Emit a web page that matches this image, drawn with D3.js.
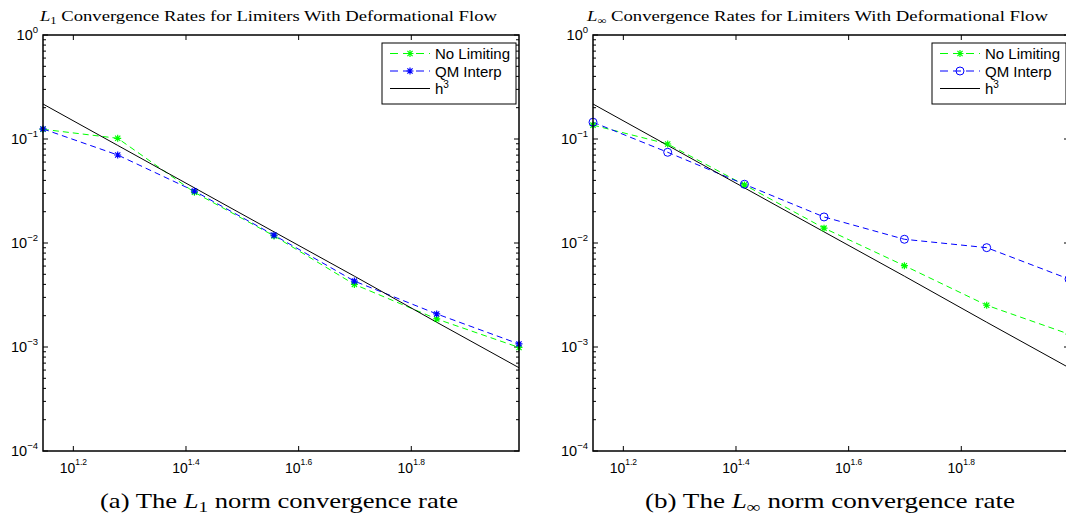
<!DOCTYPE html>
<html>
<head>
<meta charset="utf-8">
<script src="https://cdn.jsdelivr.net/npm/d3@7/dist/d3.min.js"></script>
<style>
body { margin: 0; background: #fff; }
svg { display: block; background: #fff; }
</style>
</head>
<body>
<svg width="1066" height="521"></svg>
<script>
// grid sizes on the x axis
var gridN = [14, 19, 26, 36, 50, 70, 98];

// L1 errors
var l1NoLimiting = [0.124, 0.1016, 0.0307, 0.0117, 0.0040, 0.00186, 0.00099];
var l1QMInterp = [0.125, 0.0702, 0.0316, 0.0119, 0.0043, 0.00208, 0.00107];

// L-infinity errors
var linfNoLimiting = [0.136, 0.0895, 0.0362, 0.0139, 0.00605, 0.00252, 0.00133];
var linfQMInterp = [0.145, 0.0745, 0.0367, 0.0178, 0.01086, 0.00902, 0.0045];

// h^3 reference line (same in both plots)
var h3Line = [0.217, 0.0868, 0.0339, 0.0128, 0.0048, 0.00173, 0.000632];

// ticks
var yMajor = [1e-4, 1e-3, 1e-2, 1e-1, 1];
var yMajorExp = ["\u22124", "\u22123", "\u22122", "\u22121", "0"];
var xMajorExp = ["1.2", "1.4", "1.6", "1.8"];

var legendNames = ["No Limiting", "QM Interp", "h"];

window.onload = main;

function main() {
    var svg = d3.select("svg");

    drawPanel(svg, {
        id: "a", left: 43, right: 519, top: 35, bottom: 451,
        titleX: 40, titleLen: 457, titleSub: "1",
        capX: 279, capLen: 358, capLabel: "(a)", capSub: "1",
        green: l1NoLimiting, blue: l1QMInterp, blueMarker: "star"
    });

    drawPanel(svg, {
        id: "b", left: 593, right: 1069, top: 35, bottom: 451,
        titleX: 587, titleLen: 461, titleSub: "\u221E",
        capX: 830, capLen: 370, capLabel: "(b)", capSub: "\u221E",
        green: linfNoLimiting, blue: linfQMInterp, blueMarker: "circle"
    });
}

function drawPanel(svg, p) {
    var x = d3.scaleLog().domain([gridN[0], gridN[gridN.length - 1]]).range([p.left, p.right]);
    var y = d3.scaleLog().domain([1e-4, 1]).range([p.bottom, p.top]);

    var g = svg.append("g");

    g.append("clipPath").attr("id", "clip" + p.id)
        .append("rect")
        .attr("x", p.left).attr("y", p.top)
        .attr("width", p.right - p.left).attr("height", p.bottom - p.top);

    // y minor ticks
    var yMinor = [];
    for (var d = -4; d < 0; d++) {
        for (var k = 2; k < 10; k++) yMinor.push(k * Math.pow(10, d));
    }

    var ticks = g.append("g").attr("stroke", "#000").attr("stroke-width", 1);
    yMinor.forEach(function (v) {
        ticks.append("line").attr("x1", p.left).attr("x2", p.left + 3).attr("y1", y(v)).attr("y2", y(v));
        ticks.append("line").attr("x1", p.right).attr("x2", p.right - 3).attr("y1", y(v)).attr("y2", y(v));
    });
    yMajor.forEach(function (v) {
        ticks.append("line").attr("x1", p.left).attr("x2", p.left + 5).attr("y1", y(v)).attr("y2", y(v));
        ticks.append("line").attr("x1", p.right).attr("x2", p.right - 5).attr("y1", y(v)).attr("y2", y(v));
    });
    xMajorExp.forEach(function (e) {
        var xv = x(Math.pow(10, +e));
        ticks.append("line").attr("x1", xv).attr("x2", xv).attr("y1", p.bottom).attr("y2", p.bottom - 5);
        ticks.append("line").attr("x1", xv).attr("x2", xv).attr("y1", p.top).attr("y2", p.top + 5);
    });

    // y tick labels
    yMajor.forEach(function (v, i) {
        var t = g.append("text")
            .attr("x", p.left - 5).attr("y", y(v) + 5)
            .attr("text-anchor", "end")
            .style("font-family", "'Liberation Sans', Arial, sans-serif")
            .style("font-size", "14.5px");
        t.append("tspan").text("10");
        t.append("tspan").attr("dy", -7).style("font-size", "9.5px").text(yMajorExp[i]);
    });

    // x tick labels
    xMajorExp.forEach(function (e) {
        var t = g.append("text")
            .attr("x", x(Math.pow(10, +e))).attr("y", p.bottom + 22)
            .attr("text-anchor", "middle")
            .style("font-family", "'Liberation Sans', Arial, sans-serif")
            .style("font-size", "14px");
        t.append("tspan").text("10");
        t.append("tspan").attr("dy", -8).style("font-size", "8.5px").text(e);
    });

    // data lines
    var line = d3.line()
        .x(function (d) { return x(d[0]); })
        .y(function (d) { return y(d[1]); });

    var plot = g.append("g").attr("clip-path", "url(#clip" + p.id + ")");

    var series = [
        { vals: p.green, color: "#00ff00", dash: "6,4", marker: "star" },
        { vals: p.blue, color: "#0000ff", dash: "6,4", marker: p.blueMarker },
        { vals: h3Line, color: "#000", dash: null, marker: null }
    ];

    series.forEach(function (s) {
        var pts = gridN.map(function (n, i) { return [n, s.vals[i]]; });
        plot.append("path")
            .attr("d", line(pts))
            .attr("fill", "none")
            .attr("stroke", s.color)
            .attr("stroke-width", 1)
            .attr("stroke-dasharray", s.dash);
        if (s.marker) {
            pts.forEach(function (pt) {
                drawMarker(g, s.marker, x(pt[0]), y(pt[1]), s.color);
            });
        }
    });

    // axes box
    g.append("rect")
        .attr("x", p.left).attr("y", p.top)
        .attr("width", p.right - p.left).attr("height", p.bottom - p.top)
        .attr("fill", "none").attr("stroke", "#000").attr("stroke-width", 1.5);

    // legend
    var lw = 134, lh = 61;
    var lx = p.right - 3 - lw, ly = p.top + 8;
    var leg = g.append("g");
    leg.append("rect")
        .attr("x", lx).attr("y", ly).attr("width", lw).attr("height", lh)
        .attr("fill", "#fff").attr("stroke", "#000").attr("stroke-width", 1);
    series.forEach(function (s, i) {
        var ry = ly + 10.5 + i * 17.5;
        leg.append("line")
            .attr("x1", lx + 8).attr("x2", lx + 48).attr("y1", ry).attr("y2", ry)
            .attr("stroke", s.color).attr("stroke-width", 1)
            .attr("stroke-dasharray", s.dash ? "8,5" : null);
        if (s.marker) drawMarker(leg, s.marker, lx + 28, ry, s.color);
        var t = leg.append("text")
            .attr("x", lx + 53).attr("y", ry + 5.5)
            .style("font-family", "'Liberation Sans', Arial, sans-serif")
            .style("font-size", "15px")
            .text(legendNames[i]);
        if (i == 2) t.append("tspan").attr("dy", -6).style("font-size", "10px").text("3");
    });

    // title
    var title = g.append("text")
        .attr("x", p.titleX).attr("y", 21)
        .attr("textLength", p.titleLen)
        .attr("lengthAdjust", "spacingAndGlyphs")
        .style("font-family", "'Liberation Serif', 'Times New Roman', serif")
        .style("font-size", "15px");
    title.append("tspan").style("font-style", "italic").text("L");
    title.append("tspan").attr("dy", 3).style("font-size", "10px").text(p.titleSub);
    title.append("tspan").attr("dy", -3).text(" Convergence Rates for Limiters With Deformational Flow");

    // caption
    var cap = g.append("text")
        .attr("x", p.capX).attr("y", 508)
        .attr("text-anchor", "middle")
        .attr("textLength", p.capLen)
        .attr("lengthAdjust", "spacingAndGlyphs")
        .style("font-family", "'Liberation Serif', 'Times New Roman', serif")
        .style("font-size", "21px");
    cap.append("tspan").text(p.capLabel + " The ");
    cap.append("tspan").style("font-style", "italic").text("L");
    cap.append("tspan").attr("dy", 4).style("font-size", "15px").text(p.capSub);
    cap.append("tspan").attr("dy", -4).text(" norm convergence rate");
}

function drawMarker(g, type, cx, cy, color) {
    if (type == "star") {
        g.append("path")
            .attr("d", "M-3.5,0H3.5M0,-3.5V3.5M-2.6,-2.6L2.6,2.6M-2.6,2.6L2.6,-2.6")
            .attr("transform", "translate(" + cx + "," + cy + ")")
            .attr("stroke", color).attr("stroke-width", 1.2).attr("fill", "none");
    } else {
        g.append("circle")
            .attr("cx", cx).attr("cy", cy).attr("r", 4)
            .attr("stroke", color).attr("stroke-width", 1).attr("fill", "none");
    }
}
</script>
</body>
</html>
